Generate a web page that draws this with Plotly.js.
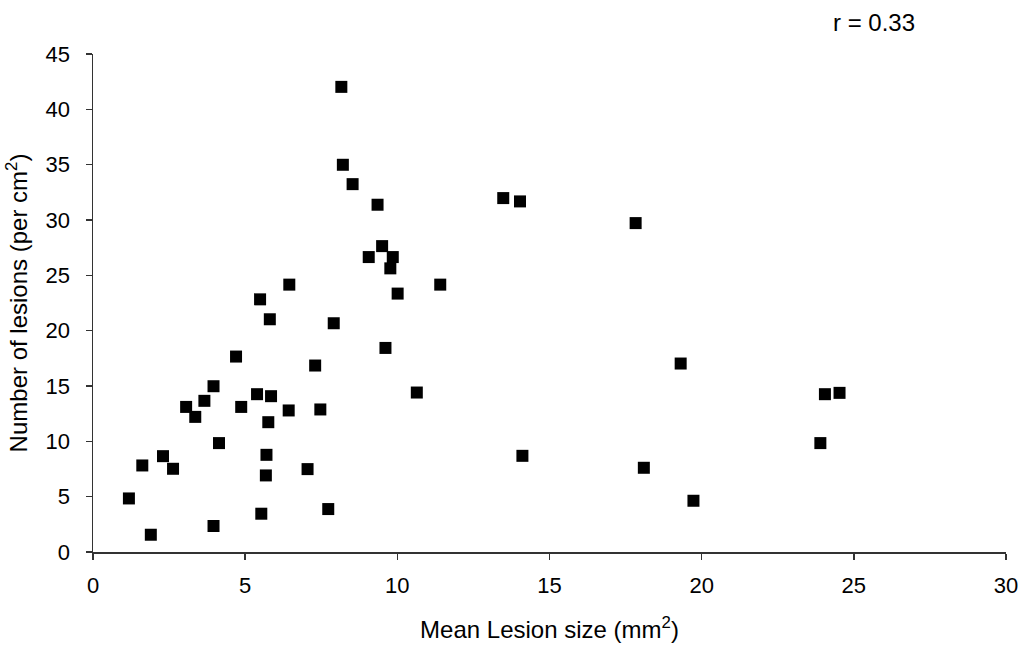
<!DOCTYPE html>
<html>
<head>
<meta charset="utf-8">
<script src="https://cdn.plot.ly/plotly-3.0.1.min.js"></script>
<style>html,body{margin:0;padding:0;background:#fff;}#chart{width:1023px;height:648px;}</style>
</head>
<body>
<div id="chart"></div>
<script>
const lesionSize = [1.18,1.62,1.90,2.30,2.63,3.06,3.36,3.66,3.96,4.14,3.96,4.70,4.87,5.49,5.39,5.85,5.81,5.53,5.76,5.70,5.68,6.45,6.43,7.30,7.47,7.05,7.73,7.91,8.16,8.21,8.53,9.06,9.35,9.50,9.85,9.77,11.41,10.01,13.48,14.03,17.83,9.61,10.64,14.11,18.10,19.31,24.05,24.53,23.90,19.73];
const lesionCount = [4.84,7.82,1.56,8.66,7.52,13.11,12.21,13.66,14.98,9.84,2.35,17.66,13.11,22.83,14.26,14.08,21.03,3.46,11.73,8.78,6.92,24.16,12.79,16.85,12.88,7.49,3.88,20.67,42.03,34.99,33.24,26.65,31.38,27.64,26.65,25.63,24.16,23.35,31.98,31.68,29.72,18.44,14.41,8.69,7.61,17.03,14.26,14.38,9.84,4.63];
const xTickVals = [0,5,10,15,20,25,30];
const yTickVals = [0,5,10,15,20,25,30,35,40,45];
const xTitle = "Mean Lesion size (mm<sup>2</sup>)";
const yTitle = "Number of lesions (per cm<sup>2</sup>)";
const rLabel = "r = 0.33";

const fam = "Liberation Sans, Arial, sans-serif";
const f = (s) => ({family: fam, size: s, color: "#000"});

Plotly.newPlot("chart", [{
  x: lesionSize, y: lesionCount, type: "scatter", mode: "markers",
  marker: {symbol: "square", size: 12, color: "#000", line: {width: 0}},
  hoverinfo: "skip"
}], {
  width: 1023, height: 648,
  margin: {l: 93, r: 17, t: 54, b: 96},
  paper_bgcolor: "#fff", plot_bgcolor: "#fff",
  showlegend: false,
  font: f(22),
  xaxis: {
    range: [0, 30], tickvals: xTickVals, ticktext: xTickVals.map(String),
    automargin: false,
    showgrid: false, zeroline: false, showline: true, linecolor: "#333", linewidth: 1.5,
    ticks: "outside", ticklen: 6, tickcolor: "#333", tickwidth: 1.5,
    ticklabelstandoff: 7,
    tickfont: f(22),
    title: {text: xTitle, font: f(24), standoff: 24}
  },
  yaxis: {
    range: [0, 45], tickvals: yTickVals, ticktext: yTickVals.map(String),
    automargin: false,
    showgrid: false, zeroline: false, showline: true, linecolor: "#333", linewidth: 1.5,
    ticks: "outside", ticklen: 6, tickcolor: "#333", tickwidth: 1.5,
    ticklabelstandoff: 11,
    tickfont: f(22),
    title: {text: yTitle, font: f(24), standoff: 11}
  },
  annotations: [{
    text: rLabel, xref: "paper", yref: "paper", x: 0.855, y: 1.064,
    xanchor: "center", yanchor: "middle", showarrow: false,
    font: f(24)
  }]
}, {staticPlot: true, displayModeBar: false});
</script>
</body>
</html>
